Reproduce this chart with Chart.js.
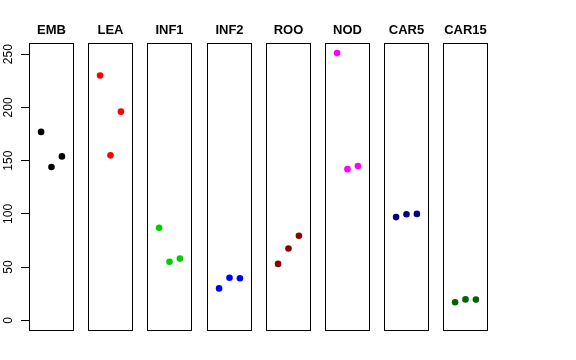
<!DOCTYPE html>
<html>
<head>
<meta charset="utf-8">
<script src="https://cdn.jsdelivr.net/npm/chart.js@4"></script>
<style>
  html, body { margin: 0; padding: 0; background: #fff; }
  #wrap { position: relative; width: 576px; height: 360px; overflow: hidden; }
  #wrap canvas { position: absolute; top: 0; }
</style>
</head>
<body>
<div id="wrap"></div>
<script>
// panel names and colours
const groups = ['EMB', 'LEA', 'INF1', 'INF2', 'ROO', 'NOD', 'CAR5', 'CAR15'];
const colors = ['#000000', '#FF0000', '#00CD00', '#0000FF', '#8B0000', '#FF00FF', '#000080', '#006400'];

// three replicates per panel
const xPos = [1, 2, 3];
const embVals = [177, 144, 154];
const leaVals = [230, 155, 196];
const inf1Vals = [87, 55, 58];
const inf2Vals = [30, 40, 39.5];
const rooVals = [53, 67.5, 79.5];
const nodVals = [251, 142, 145];
const car5Vals = [97, 99.6, 100];
const car15Vals = [17, 19.7, 19.5];
const allVals = [embVals, leaVals, inf1Vals, inf2Vals, rooVals, nodVals, car5Vals, car15Vals];

const yTicks = [0, 50, 100, 150, 200, 250];
const yMin = -10, yMax = 260.5;
const xMin = -0.16, xMax = 4.16;

// layout of the panel grid
const firstLeft = 29, step = 59.2, panelW = 45;
const boxTop = 43, boxBottom = 331;
const side = 7;

// box round the plot area + bold title above it
const panelDeco = {
    id: 'panelDeco',
    afterDraw(chart, args, opts) {
        const ctx = chart.ctx;
        const a = chart.chartArea;
        ctx.save();
        ctx.strokeStyle = '#000';
        ctx.lineWidth = 1;
        ctx.strokeRect(Math.round(a.left) + 0.5, Math.round(a.top) + 0.5,
            Math.round(a.right - a.left) - 1, Math.round(a.bottom - a.top) - 1);
        ctx.fillStyle = '#000';
        ctx.font = 'bold 13px "Liberation Sans", Arial, sans-serif';
        ctx.textAlign = 'center';
        ctx.textBaseline = 'alphabetic';
        ctx.fillText(opts.title, (a.left + a.right) / 2, 34);
        ctx.restore();
    }
};

function makePanel(i) {
    const first = i === 0;
    const panelLeft = Math.round(firstLeft + i * step);
    const canvas = document.createElement('canvas');
    const left = first ? 0 : panelLeft - side;
    const width = first ? panelLeft + panelW + side : panelW + side * 2;
    canvas.width = width;
    canvas.height = 360;
    canvas.style.left = left + 'px';
    canvas.style.width = width + 'px';
    canvas.style.height = '360px';
    document.getElementById('wrap').appendChild(canvas);

    const yScale = {
        type: 'linear',
        min: yMin,
        max: yMax,
        display: first
    };
    if (first) {
        // only the first panel carries the y axis
        Object.assign(yScale, {
            afterBuildTicks: s => { s.ticks = yTicks.map(v => ({ value: v })); },
            afterFit: s => { s.width = panelLeft; },
            grid: { drawOnChartArea: false, drawTicks: true, tickLength: 8, color: '#000' },
            border: { display: false },
            ticks: {
                minRotation: 90,
                maxRotation: 90,
                crossAlign: 'center',
                padding: 2,
                color: '#000',
                font: { family: '"Liberation Sans", Arial, sans-serif', size: 12 }
            }
        });
    }

    new Chart(canvas.getContext('2d'), {
        type: 'scatter',
        data: {
            datasets: [{
                data: xPos.map((x, j) => ({ x: x, y: allVals[i][j] })),
                backgroundColor: colors[i],
                borderWidth: 0,
                pointRadius: 3.3,
                pointHoverRadius: 3.3
            }]
        },
        options: {
            responsive: false,
            animation: false,
            events: [],
            layout: {
                padding: { top: boxTop, bottom: 360 - boxBottom, left: first ? 0 : side, right: side }
            },
            plugins: {
                legend: { display: false },
                tooltip: { enabled: false },
                panelDeco: { title: groups[i] }
            },
            scales: {
                x: { type: 'linear', min: xMin, max: xMax, display: false },
                y: yScale
            }
        },
        plugins: [panelDeco]
    });
}

groups.forEach((g, i) => makePanel(i));
</script>
</body>
</html>
